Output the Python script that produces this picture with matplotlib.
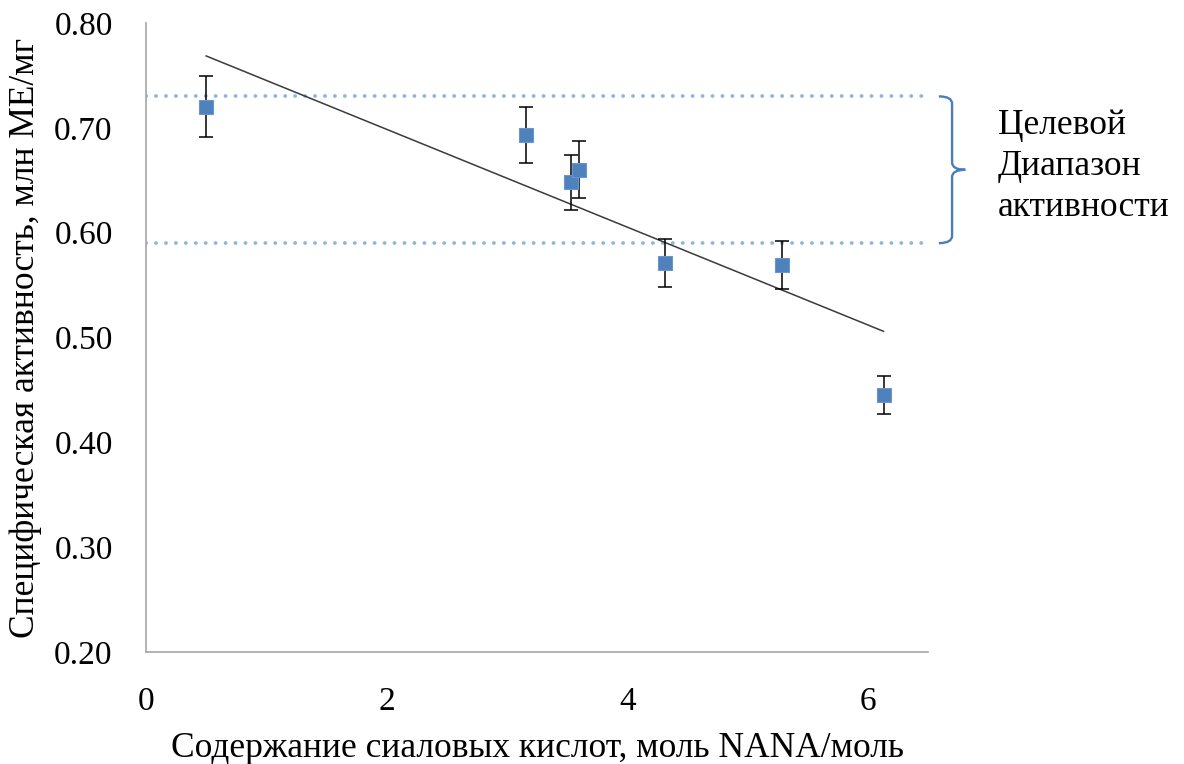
import numpy as np
import matplotlib
matplotlib.use("Agg")
import matplotlib.pyplot as plt
from matplotlib.path import Path
from matplotlib.patches import PathPatch

plt.rcParams['font.family'] = ['Liberation Serif', 'DejaVu Serif']

# sialic acid content vs specific activity
sialic = [0.50, 3.16, 3.53, 3.60, 4.31, 5.29, 6.13]
activity = [0.720, 0.693, 0.648, 0.660, 0.571, 0.569, 0.445]
errors = [0.029, 0.027, 0.026, 0.027, 0.023, 0.023, 0.018]

# target activity range
range_low = 0.59
range_high = 0.73

fig = plt.figure(figsize=(11.84, 7.64), dpi=100)
ax = fig.add_axes([0.1233, 0.1466, 0.6605, 0.8233])

blue = '#4F81BD'
ax.errorbar(sialic, activity, yerr=errors, fmt='none', ecolor='black',
            elinewidth=1.1, capsize=4.8, capthick=1.1, zorder=3)
ax.plot(sialic, activity, 's', markersize=10, markerfacecolor=blue,
        markeredgecolor='#6A96CC', markeredgewidth=0.8, zorder=4)

# linear trend over the measured range
k, b = np.polyfit(sialic, activity, 1)
xs = np.array([min(sialic), max(sialic)])
ax.plot(xs, k * xs + b, color='#3A3A3A', linewidth=1.1, zorder=2)

for yv in (range_low, range_high):
    ax.plot([0, 6.5], [yv, yv], color='#8EB4E3', linewidth=2.7,
            linestyle=(0, (0.05, 2.6)), dash_capstyle='round', zorder=1)

ax.set_xlim(0, 6.5)
ax.set_ylim(0.2, 0.8)
ax.set_xticks([0, 2, 4, 6])
ax.set_yticks(np.arange(0.2, 0.81, 0.1))
ax.set_yticklabels(['%.2f' % v for v in np.arange(0.2, 0.81, 0.1)])
ax.tick_params(length=0, labelsize=24)
ax.tick_params(axis='y', pad=24)
ax.tick_params(axis='x', pad=25)
for side in ('top', 'right'):
    ax.spines[side].set_visible(False)
for side in ('left', 'bottom'):
    ax.spines[side].set_color('#A6A6A6')
    ax.spines[side].set_linewidth(1.2)

ax.set_xlabel('Содержание сиаловых кислот, моль NANA/моль', fontsize=25.5,
              labelpad=11)
ax.set_ylabel('Специфическая активность, млн МЕ/мг', fontsize=25.5, labelpad=9)

# curly brace marking the target range
x0, x1, x2 = 6.59, 6.70, 6.81
r = 0.007
ymid = (range_low + range_high) / 2
verts = [(x0, range_high), (x1, range_high), (x1, range_high - r),
         (x1, ymid + r), (x1, ymid), (x2, ymid),
         (x1, ymid), (x1, ymid - r),
         (x1, range_low + r), (x1, range_low), (x0, range_low)]
codes = [Path.MOVETO, Path.CURVE3, Path.CURVE3,
         Path.LINETO, Path.CURVE3, Path.CURVE3,
         Path.CURVE3, Path.CURVE3,
         Path.LINETO, Path.CURVE3, Path.CURVE3]
ax.add_patch(PathPatch(Path(verts, codes), fill=False, edgecolor='#4A7EBB',
                       linewidth=1.7, clip_on=False))

ax.text(7.08, ymid + 0.003, 'Целевой\nДиапазон\nактивности', fontsize=25.5,
        ha='left', va='center', linespacing=1.32)

fig.savefig('out.png', dpi=100)
